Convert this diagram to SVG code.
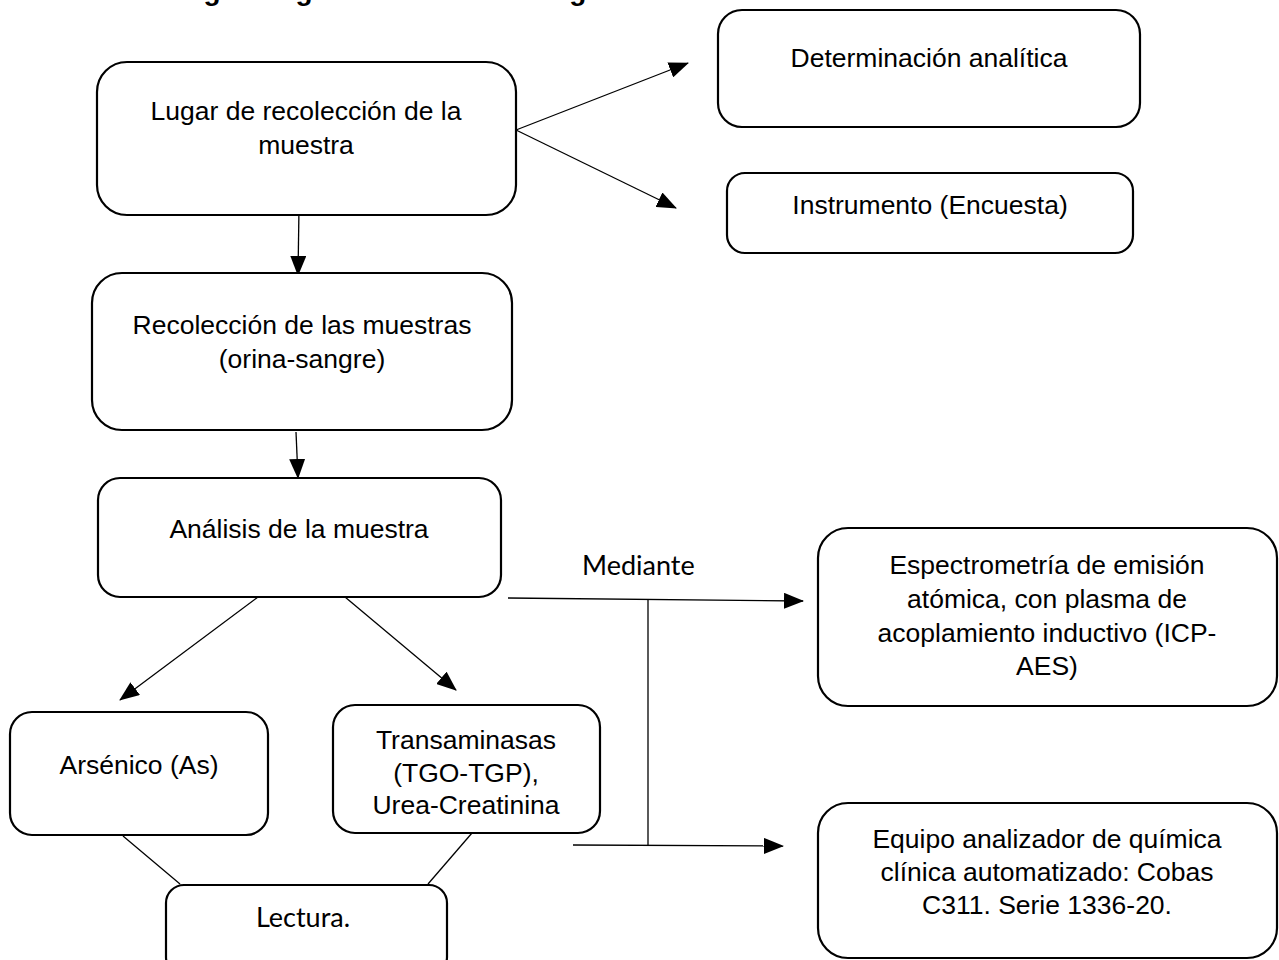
<svg xmlns="http://www.w3.org/2000/svg" width="1279" height="960" viewBox="0 0 1279 960">
<style>
.box{fill:#fff;stroke:#000;stroke-width:2.2}
.t{font-family:"Liberation Sans",Arial,sans-serif;font-size:26.5px;fill:#000;text-anchor:middle}
.c{font-family:Lato,"Open Sans",sans-serif;font-size:27px;fill:#000}
.ln{stroke:#000;stroke-width:1.3;fill:none}
</style>
<defs>
<marker id="ah" markerUnits="userSpaceOnUse" markerWidth="20" markerHeight="16" refX="19" refY="8" orient="auto">
<path d="M0,0 L20,8 L0,16 Z" fill="#000"/>
</marker>
</defs>
<rect width="1279" height="960" fill="#fff"/>
<text x="160" y="0" style="font-family:'Liberation Sans',Arial,sans-serif;font-size:28px;font-weight:bold">Diagrama general de metodología</text>
<g id="connectors">
<line class="ln" x1="299" y1="208" x2="298" y2="275" marker-end="url(#ah)"/>
<line class="ln" x1="296" y1="432" x2="298" y2="478" marker-end="url(#ah)"/>
<line class="ln" x1="516" y1="130" x2="688" y2="63" marker-end="url(#ah)"/>
<line class="ln" x1="516" y1="130" x2="676" y2="208" marker-end="url(#ah)"/>
<line class="ln" x1="258" y1="597" x2="120" y2="700" marker-end="url(#ah)"/>
<line class="ln" x1="345" y1="597" x2="456" y2="690" marker-end="url(#ah)"/>
<line class="ln" x1="123" y1="836" x2="180" y2="884"/>
<line class="ln" x1="472" y1="833" x2="428" y2="884"/>
<line class="ln" x1="508" y1="598" x2="803" y2="601" marker-end="url(#ah)"/>
<line class="ln" x1="648" y1="599" x2="648" y2="846"/>
<line class="ln" x1="573" y1="845" x2="783" y2="846" marker-end="url(#ah)"/>
<text class="c" x="582" y="575">Mediante</text>
</g>
<g id="lugar">
<rect class="box" x="97" y="62" width="419" height="153" rx="30"/>
<text class="t" x="306" y="120">Lugar de recolección de la</text>
<text class="t" x="306" y="154">muestra</text>
</g>
<g id="recoleccion">
<rect class="box" x="92" y="273" width="420" height="157" rx="30"/>
<text class="t" x="302" y="334">Recolección de las muestras</text>
<text class="t" x="302" y="368">(orina-sangre)</text>
</g>
<g id="analisis">
<rect class="box" x="98" y="478" width="403" height="119" rx="22"/>
<text class="t" x="299" y="538">Análisis de la muestra</text>
</g>
<g id="determinacion">
<rect class="box" x="718" y="10" width="422" height="117" rx="24"/>
<text class="t" x="929" y="67">Determinación analítica</text>
</g>
<g id="instrumento">
<rect class="box" x="727" y="173" width="406" height="80" rx="18"/>
<text class="t" x="930" y="214">Instrumento (Encuesta)</text>
</g>
<g id="arsenico">
<rect class="box" x="10" y="712" width="258" height="123" rx="22"/>
<text class="t" x="139" y="774">Arsénico (As)</text>
</g>
<g id="transaminasas">
<rect class="box" x="333" y="705" width="267" height="128" rx="22"/>
<text class="t" x="466" y="749">Transaminasas</text>
<text class="t" x="466" y="782">(TGO-TGP),</text>
<text class="t" x="466" y="814">Urea-Creatinina</text>
</g>
<g id="lectura">
<rect class="box" x="166" y="885" width="281" height="90" rx="18"/>
<text class="c" x="303" y="927" text-anchor="middle">Lectura.</text>
</g>
<g id="espectrometria">
<rect class="box" x="818" y="528" width="459" height="178" rx="30"/>
<text class="t" x="1047" y="574">Espectrometría de emisión</text>
<text class="t" x="1047" y="608">atómica, con plasma de</text>
<text class="t" x="1047" y="642">acoplamiento inductivo (ICP-</text>
<text class="t" x="1047" y="675">AES)</text>
</g>
<g id="equipo">
<rect class="box" x="818" y="803" width="459" height="155" rx="30"/>
<text class="t" x="1047" y="848">Equipo analizador de química</text>
<text class="t" x="1047" y="881">clínica automatizado: Cobas</text>
<text class="t" x="1047" y="914">C311. Serie 1336-20.</text>
</g>
</svg>
